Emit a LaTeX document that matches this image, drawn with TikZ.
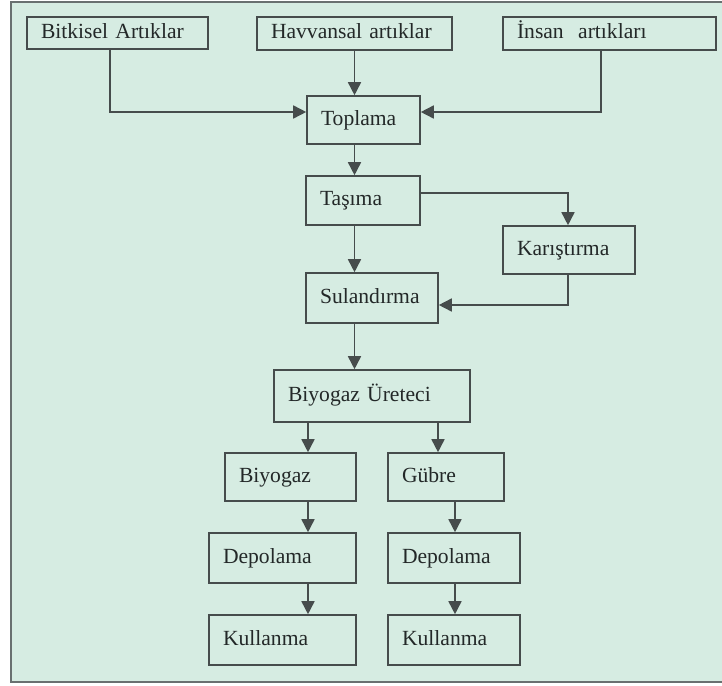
\documentclass[tikz,border=0pt]{standalone}
\usepackage{fontspec}
\setmainfont{Liberation Serif}
\usetikzlibrary{arrows.meta}

\definecolor{zemin}{RGB}{214,236,226}
\definecolor{cizgi}{RGB}{70,76,76}
\definecolor{yazi}{RGB}{35,40,40}
\definecolor{cerceve}{RGB}{105,112,112}

\tikzset{
  kutu/.style={draw=cizgi, line width=0.8pt, inner xsep=7pt, inner ysep=0pt,
    text height=7.4pt, text depth=2.4pt,
    align=left, text=yazi, font=\fontsize{10.8}{13}\selectfont},
  ok/.style={draw=cizgi, line width=0.8pt, -{Triangle[width=6.5pt,length=6.5pt]}}
}

\begin{document}
\begin{tikzpicture}[x=0.5pt,y=-0.5pt]
                \useasboundingbox (0,0) rectangle (722,685);
                \fill[white] (0,0) rectangle (722,685);
                \fill[zemin] (11,2) rectangle (722,682);
                \draw[cerceve, line width=1.2pt] (722,2) -- (11,2) -- (11,682) -- (722,682);

                % ust sira
                \node[kutu, text width=76.5pt, minimum height=16pt] (bitkisel) at (117.5,33) {Bitkisel Artıklar};
                \node[kutu, text width=83.5pt, minimum height=16.5pt] (havvansal) at (354.5,33.5) {Havvansal artıklar};
                \node[kutu, text width=92.5pt, minimum height=16.5pt] (insan) at (609.5,33.5) {İnsan\ \ artıkları};

                \node[kutu, text width=42.5pt, minimum height=24pt] (toplama) at (363.5,120) {Toplama};
                \node[kutu, text width=43pt, minimum height=24.5pt] (tasima) at (363,200.5) {Taşıma};
                \node[kutu, text width=52pt, minimum height=24pt] (karistirma) at (569,250) {Karıştırma};
                \node[kutu, text width=52pt, minimum height=25pt] (sulandirma) at (372,298) {Sulandırma};
                \node[kutu, text width=84pt, minimum height=26pt] (uretici) at (372,396) {Biyogaz Üreteci};

                % alt kollar
                \node[kutu, text width=51.5pt, minimum height=24pt] (biyogaz) at (290.5,477) {Biyogaz};
                \node[kutu, text width=44pt, minimum height=24pt] (gubre) at (446,477) {Gübre};
                \node[kutu, text width=59.5pt, minimum height=25pt] (depolama1) at (282.5,558) {Depolama};
                \node[kutu, text width=52pt, minimum height=25pt] (depolama2) at (454,558) {Depolama};
                \node[kutu, text width=59.5pt, minimum height=25pt] (kullanma1) at (282.5,640) {Kullanma};
                \node[kutu, text width=52pt, minimum height=25pt] (kullanma2) at (454,640) {Kullanma};

                \coordinate (solkol) at (308,0);
                \coordinate (sagkol) at (455,0);

                \draw[ok] ([xshift=-3.75pt]bitkisel.south) |- ([yshift=4pt]toplama.west);
                \draw[ok] (havvansal.south) -- (havvansal.south |- toplama.north);
                \draw[ok] ([xshift=-4.25pt]insan.south) |- ([yshift=4pt]toplama.east);
                \draw[ok] (toplama.south -| havvansal) -- (tasima.north -| havvansal);
                \draw[ok] (tasima.south -| havvansal) -- (sulandirma.north -| havvansal);
                \draw[ok] ([yshift=3.75pt]tasima.east) -| ([xshift=-0.5pt]karistirma.north);
                \draw[ok] ([xshift=-0.5pt]karistirma.south) |- ([yshift=-3.5pt]sulandirma.east);
                \draw[ok] (sulandirma.south -| havvansal) -- (uretici.north -| havvansal);

                \draw[ok] (uretici.south -| solkol) -- (biyogaz.north -| solkol);
                \draw[ok] ([xshift=33pt]uretici.south) -- ([xshift=33pt]uretici.south |- gubre.north);
                \draw[ok] (biyogaz.south -| solkol) -- (depolama1.north -| solkol);
                \draw[ok] (gubre.south -| sagkol) -- (depolama2.north -| sagkol);
                \draw[ok] (depolama1.south -| solkol) -- (kullanma1.north -| solkol);
                \draw[ok] (depolama2.south -| sagkol) -- (kullanma2.north -| sagkol);
            \end{tikzpicture}
\end{document}
